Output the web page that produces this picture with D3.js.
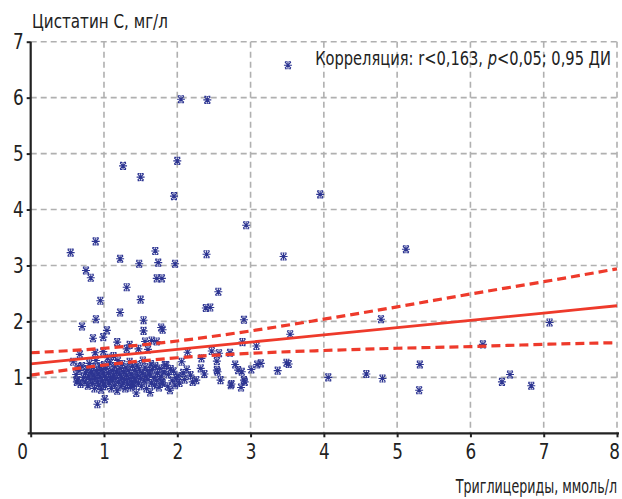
<!DOCTYPE html>
<html><head><meta charset="utf-8">
<script src="https://cdn.jsdelivr.net/npm/d3@7"></script>
<style>
html,body{margin:0;padding:0;background:#fff;}
svg{display:block;}
text{font-family:"Liberation Sans Narrow","DejaVu Sans Condensed","Roboto",sans-serif;fill:#222;}
</style></head>
<body>
<svg id="chart" width="622" height="499"></svg>
<script>
// ---- data ----
const yTitle = "Цистатин С, мг/л";
const xTitle = "Триглицериды, ммоль/л";
const xTicks = [0,1,2,3,4,5,6,7,8];
const yTicks = [1,2,3,4,5,6,7];

// triglycerides (x) and cystatin C (y) for each patient
const tgValues = [
 3.51,2.05,2.41,1.26,1.50,2.00,1.955,2.94,3.95,0.887,0.545,1.22,1.70,1.48,1.74,1.97,2.40,3.45,5.12,
 0.754,0.82,1.72,1.79,1.31,2.56,0.95,1.50,2.39,2.45,1.22,0.89,1.54,2.91,4.78,0.70,1.04,1.54,1.78,1.80,
 0.85,0.99,1.18,1.35,1.56,1.65,1.72,2.89,3.54,3.08,0.67,0.88,0.99,1.13,1.31,1.47,1.60,0.58,0.65,
 2.14,2.47,2.57,2.72,2.33,2.54,2.06,2.79,1.83,2.32,2.54,2.13,1.95,2.83,2.88,2.01,2.37,2.55,2.26,2.59,
 2.73,2.91,2.87,2.92,2.74,3.09,3.01,3.14,3.49,3.52,3.37,4.06,4.58,4.80,5.31,5.30,7.08,6.17,6.43,6.54,6.83,
 1.01,0.91,1.44,1.63,1.38,1.90,1.80,1.99,0.63,
 0.62,0.64,0.66,0.68,0.70,0.72,0.74,0.75,0.77,0.78,0.79,
 0.80,0.81,0.83,0.84,0.85,0.86,0.87,0.88,0.89,0.90,0.91,0.92,0.93,0.94,0.95,0.96,0.97,0.98,0.99,0.99,
 1.00,1.01,1.02,1.03,1.04,1.05,1.06,1.07,1.08,1.09,1.10,1.11,1.12,1.13,1.14,1.15,1.16,1.17,1.18,1.19,
 1.20,1.21,1.22,1.23,1.24,1.25,1.26,1.27,1.28,1.29,1.30,1.31,1.32,1.33,1.34,1.35,1.36,1.37,1.38,1.39,
 1.40,1.41,1.42,1.43,1.45,1.46,1.47,1.48,1.50,1.51,1.52,1.53,1.55,1.56,1.57,1.58,1.59,
 1.60,1.62,1.64,1.65,1.66,1.68,1.69,1.70,1.72,1.73,1.75,1.76,1.78,1.79,
 1.82,1.85,1.87,1.88,1.91,1.93,1.97,2.03,2.08,2.10,2.18,2.21
];
const cysValues = [
 6.58,5.97,5.96,4.78,4.58,4.87,4.24,3.72,4.27,3.43,3.23,3.12,3.26,3.03,3.05,3.03,3.20,3.16,3.29,
 2.91,2.78,2.77,2.77,2.61,2.53,2.37,2.39,2.24,2.25,2.16,2.04,2.02,2.03,2.04,1.91,1.84,1.83,1.89,1.85,
 1.70,1.72,1.63,1.58,1.64,1.66,1.64,1.63,1.77,1.56,1.41,1.44,1.46,1.38,1.51,1.51,1.50,1.28,1.19,
 1.45,1.47,1.43,1.44,1.34,1.29,1.28,1.23,1.22,1.16,1.13,1.14,1.11,1.13,1.10,1.02,1.06,1.10,0.95,0.95,
 0.86,0.95,0.82,0.92,0.88,1.23,1.14,1.25,1.26,1.24,1.12,1.00,1.06,0.98,1.23,0.77,1.98,1.59,0.92,1.05,0.85,
 0.61,0.52,0.72,0.73,0.86,0.77,0.90,0.99,0.92,
 1.05,0.95,1.12,0.88,1.20,1.00,0.92,1.08,1.15,0.85,1.02,
 1.25,0.96,1.10,0.89,1.18,1.03,0.80,0.98,1.30,1.12,0.92,1.06,0.86,1.20,1.00,0.78,1.14,0.94,1.08,0.88,
 1.22,1.02,0.84,1.16,0.96,1.35,1.08,0.90,1.26,1.00,0.80,1.12,0.94,1.04,0.86,1.20,0.98,1.10,0.76,1.30,
 0.92,1.06,1.16,0.84,1.00,1.24,0.90,1.10,0.96,0.80,1.18,1.04,0.88,1.13,0.98,1.28,0.82,1.06,0.92,1.20,
 1.00,0.86,1.12,0.95,1.22,1.04,0.90,1.15,0.98,0.84,1.08,1.30,0.94,1.18,1.02,0.80,1.12,
 0.96,1.06,1.24,0.90,1.14,1.00,0.86,1.20,0.95,1.08,0.82,1.16,1.02,0.92,
 1.10,1.22,0.84,1.05,1.15,0.94,0.86,0.90,1.08,0.96,1.04,0.92
];

// regression line and 0.95 confidence band, read at x = 0..8
const fitX     = [0,1,2,3,4,5,6,7,8];
const fitY     = [1.24,1.37,1.50,1.63,1.76,1.89,2.02,2.15,2.28];
const ciUpper  = [1.44,1.52,1.65,1.83,2.04,2.26,2.49,2.71,2.94];
const ciLower  = [1.04,1.22,1.35,1.43,1.48,1.52,1.55,1.59,1.62];

// ---- drawing ----
const svg = d3.select("#chart");
const m = {left:30.7, right:617, top:41.7, bottom:433.3};
const x = d3.scaleLinear().domain([0,8]).range([m.left, m.right]);
const y = d3.scaleLinear().domain([0,7]).range([m.bottom, m.top]);

const gridColor = "#b0b0b0";
// grid
svg.append("g").selectAll("line").data(yTicks).join("line")
  .attr("x1", m.left).attr("x2", m.right)
  .attr("y1", d=>y(d)).attr("y2", d=>y(d))
  .attr("stroke", gridColor).attr("stroke-width", 1.6).attr("stroke-dasharray","6,4");
svg.append("g").selectAll("line").data(xTicks.filter(d=>d>0)).join("line")
  .attr("x1", d=>x(d)).attr("x2", d=>x(d))
  .attr("y1", m.top).attr("y2", m.bottom)
  .attr("stroke", gridColor).attr("stroke-width", 1.6).attr("stroke-dasharray","6,4");

// points
const marker = "M-4,0H4M0,-4V4M-3,-3L3,3M-3,3L3,-3M-3,-3.5H-1M1,-3.5H3M-3,3.5H-1M1,3.5H3";
svg.append("g").selectAll("path").data(tgValues.map((d,i)=>[d,cysValues[i]])).join("path")
  .attr("d", marker)
  .attr("transform", d=>`translate(${x(d[0])},${y(d[1])})`)
  .attr("fill","none").attr("stroke","#2d3592").attr("stroke-width",1.1);

// regression + CI
const red = "#ee3a2b";
const line = d3.line().x((d,i)=>x(fitX[i])).y(d=>y(d)).curve(d3.curveMonotoneX);
svg.append("path").attr("d", line(ciUpper)).attr("fill","none")
  .attr("stroke",red).attr("stroke-width",3.2).attr("stroke-dasharray","9,5");
svg.append("path").attr("d", line(ciLower)).attr("fill","none")
  .attr("stroke",red).attr("stroke-width",3.2).attr("stroke-dasharray","9,5");
svg.append("path").attr("d", line(fitY)).attr("fill","none")
  .attr("stroke",red).attr("stroke-width",2.8);

// axes
const yAxis = svg.append("g").attr("transform",`translate(${m.left},0)`)
  .call(d3.axisLeft(y).tickValues(yTicks).tickSize(4).tickPadding(3).tickFormat(d3.format("d")));
const xAxis = svg.append("g").attr("transform",`translate(0,${m.bottom})`)
  .call(d3.axisBottom(x).tickValues(xTicks).tickSize(4).tickPadding(6).tickFormat(d3.format("d")));
[yAxis,xAxis].forEach(g=>{
  g.select(".domain").attr("stroke","#222").attr("stroke-width",2.2);
  g.selectAll(".tick line").attr("stroke","#222").attr("stroke-width",2);
  g.selectAll(".tick text").attr("font-size",22).attr("fill","#222")
    .attr("font-family",'"Liberation Sans Narrow","DejaVu Sans Condensed",sans-serif');
});
yAxis.select(".domain").attr("d",`M0,${m.bottom}V${m.top}`);
xAxis.select(".domain").attr("d",`M${m.left-3},0H${m.right+2}`);
xAxis.selectAll(".tick text").filter(d=>d===0).attr("dx",-10);
xAxis.selectAll(".tick text").filter(d=>d===8).attr("text-anchor","end").attr("dx",3);
xAxis.selectAll(".tick text").attr("transform","scale(0.85,1)");
yAxis.selectAll(".tick text").attr("transform","translate(-1,0) scale(0.85,1)");

// fit text horizontally to a target width
function fitText(sel, targetW){
  const w = sel.node().getBBox().width;
  const tx = +sel.attr("data-x"), ty = +sel.attr("data-y");
  sel.attr("x",0).attr("y",0)
    .attr("transform",`translate(${tx},${ty}) scale(${targetW/w},1)`);
}
const t1 = svg.append("text").attr("data-x",32).attr("data-y",28).attr("font-size",19.5).text(yTitle);
fitText(t1,136);
const t2 = svg.append("text").attr("data-x",617).attr("data-y",493).attr("font-size",19.5)
  .attr("text-anchor","end").text(xTitle);
fitText(t2,162);
const t3 = svg.append("text").attr("data-x",611).attr("data-y",65).attr("font-size",19.5).attr("text-anchor","end");
t3.append("tspan").text("Корреляция: r<0,163, ");
t3.append("tspan").attr("font-style","italic").text("p");
t3.append("tspan").text("<0,05; 0,95 ДИ");
fitText(t3,296);
</script>
</body></html>
